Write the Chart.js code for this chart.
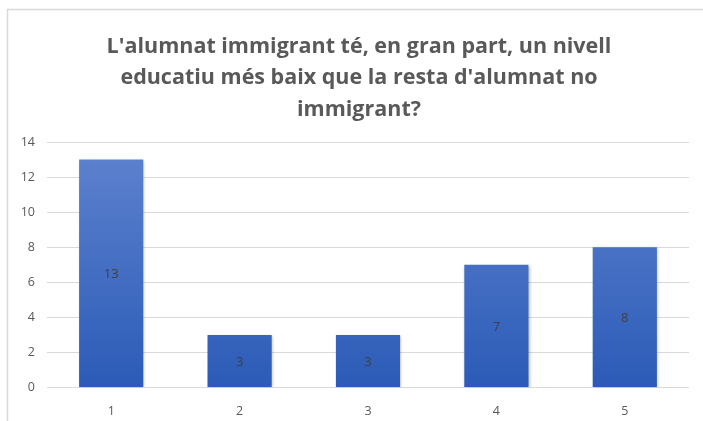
<!DOCTYPE html>
<html>
<head>
<meta charset="utf-8">
<script src="https://cdn.jsdelivr.net/npm/chart.js@4"></script>
<style>
  html, body { margin: 0; padding: 0; background: #fff; }
  #wrap { position: relative; width: 703px; height: 421px; }
</style>
</head>
<body>
<div id="wrap"><canvas id="barChart" width="703" height="421"></canvas></div>
<script>
// Chart data
const categories = ['1', '2', '3', '4', '5'];
const responses = [13, 3, 3, 7, 8];
const titleLines = [
  "L'alumnat immigrant té, en gran part, un nivell",
  "educatiu més baix que la resta d'alumnat no",
  "immigrant?"
];
const yMax = 14;
const yStep = 2;

// light frame round the chart object
const framePlugin = {
  id: 'frame',
  beforeDraw(chart) {
    const ctx = chart.ctx;
    ctx.save();
    ctx.strokeStyle = '#d9d9d9';
    ctx.lineWidth = 1.5;
    ctx.beginPath();
    ctx.moveTo(7.5, chart.height + 5);
    ctx.lineTo(7.5, 9.5);
    ctx.lineTo(chart.width + 5, 9.5);
    ctx.stroke();
    ctx.restore();
  }
};

// three-line heading, centred on the chart object (which runs past the right edge)
const headingPlugin = {
  id: 'heading',
  afterDraw(chart) {
    const ctx = chart.ctx;
    ctx.save();
    ctx.font = 'bold 21.5px "Open Sans"';
    ctx.fillStyle = '#595959';
    ctx.textAlign = 'center';
    ctx.textBaseline = 'middle';
    titleLines.forEach((line, i) => {
      ctx.fillText(line, 359, 46.5 + i * 31.5);
    });
    ctx.restore();
  }
};

// value written in the middle of each bar
const barValuePlugin = {
  id: 'barValue',
  afterDatasetsDraw(chart) {
    const ctx = chart.ctx;
    const meta = chart.getDatasetMeta(0);
    ctx.save();
    ctx.font = '13px "Open Sans"';
    ctx.fillStyle = '#404040';
    ctx.textAlign = 'center';
    ctx.textBaseline = 'middle';
    meta.data.forEach((bar, i) => {
      const mid = (bar.y + bar.base) / 2;
      ctx.fillText(String(responses[i]), bar.x, mid + 1);
    });
    ctx.restore();
  }
};

// soft shadow under the bars
const shadowPlugin = {
  id: 'barShadow',
  beforeDatasetsDraw(chart) {
    const ctx = chart.ctx;
    ctx.save();
    ctx.shadowColor = 'rgba(0,0,0,0.25)';
    ctx.shadowBlur = 3;
    ctx.shadowOffsetX = 1;
    ctx.shadowOffsetY = 1;
  },
  afterDatasetsDraw(chart) {
    chart.ctx.restore();
  }
};

function barGradient(context) {
  const chart = context.chart;
  const area = chart.chartArea;
  if (!area) return '#4472c4';
  const y = chart.scales.y;
  const g = chart.ctx.createLinearGradient(0, y.getPixelForValue(yMax), 0, y.getPixelForValue(0));
  g.addColorStop(0, '#5f83cf');
  g.addColorStop(1, '#2b5bb7');
  return g;
}

new Chart(document.getElementById('barChart'), {
  type: 'bar',
  data: {
    labels: categories,
    datasets: [{
      data: responses,
      backgroundColor: barGradient,
      borderWidth: 0,
      barPercentage: 1,
      categoryPercentage: 0.5
    }]
  },
  options: {
    responsive: false,
    animation: false,
    layout: {
      padding: { left: 0, right: 14, top: 142, bottom: 0 }
    },
    plugins: {
      legend: { display: false },
      tooltip: { enabled: false },
      title: { display: false }
    },
    scales: {
      x: {
        grid: { display: false },
        border: { display: false },
        ticks: {
          color: '#595959',
          font: { family: '"Open Sans"', size: 12.5 },
          padding: 8
        },
        afterFit(scale) { scale.height = 33.5; }
      },
      y: {
        min: 0,
        max: yMax,
        grid: { color: '#d9d9d9', drawTicks: false, lineWidth: 1 },
        border: { display: false },
        ticks: {
          stepSize: yStep,
          color: '#595959',
          font: { family: '"Open Sans"', size: 12.5 },
          padding: 12
        },
        afterFit(scale) { scale.width = 47; }
      }
    }
  },
  plugins: [framePlugin, shadowPlugin, barValuePlugin, headingPlugin]
});
</script>
</body>
</html>
